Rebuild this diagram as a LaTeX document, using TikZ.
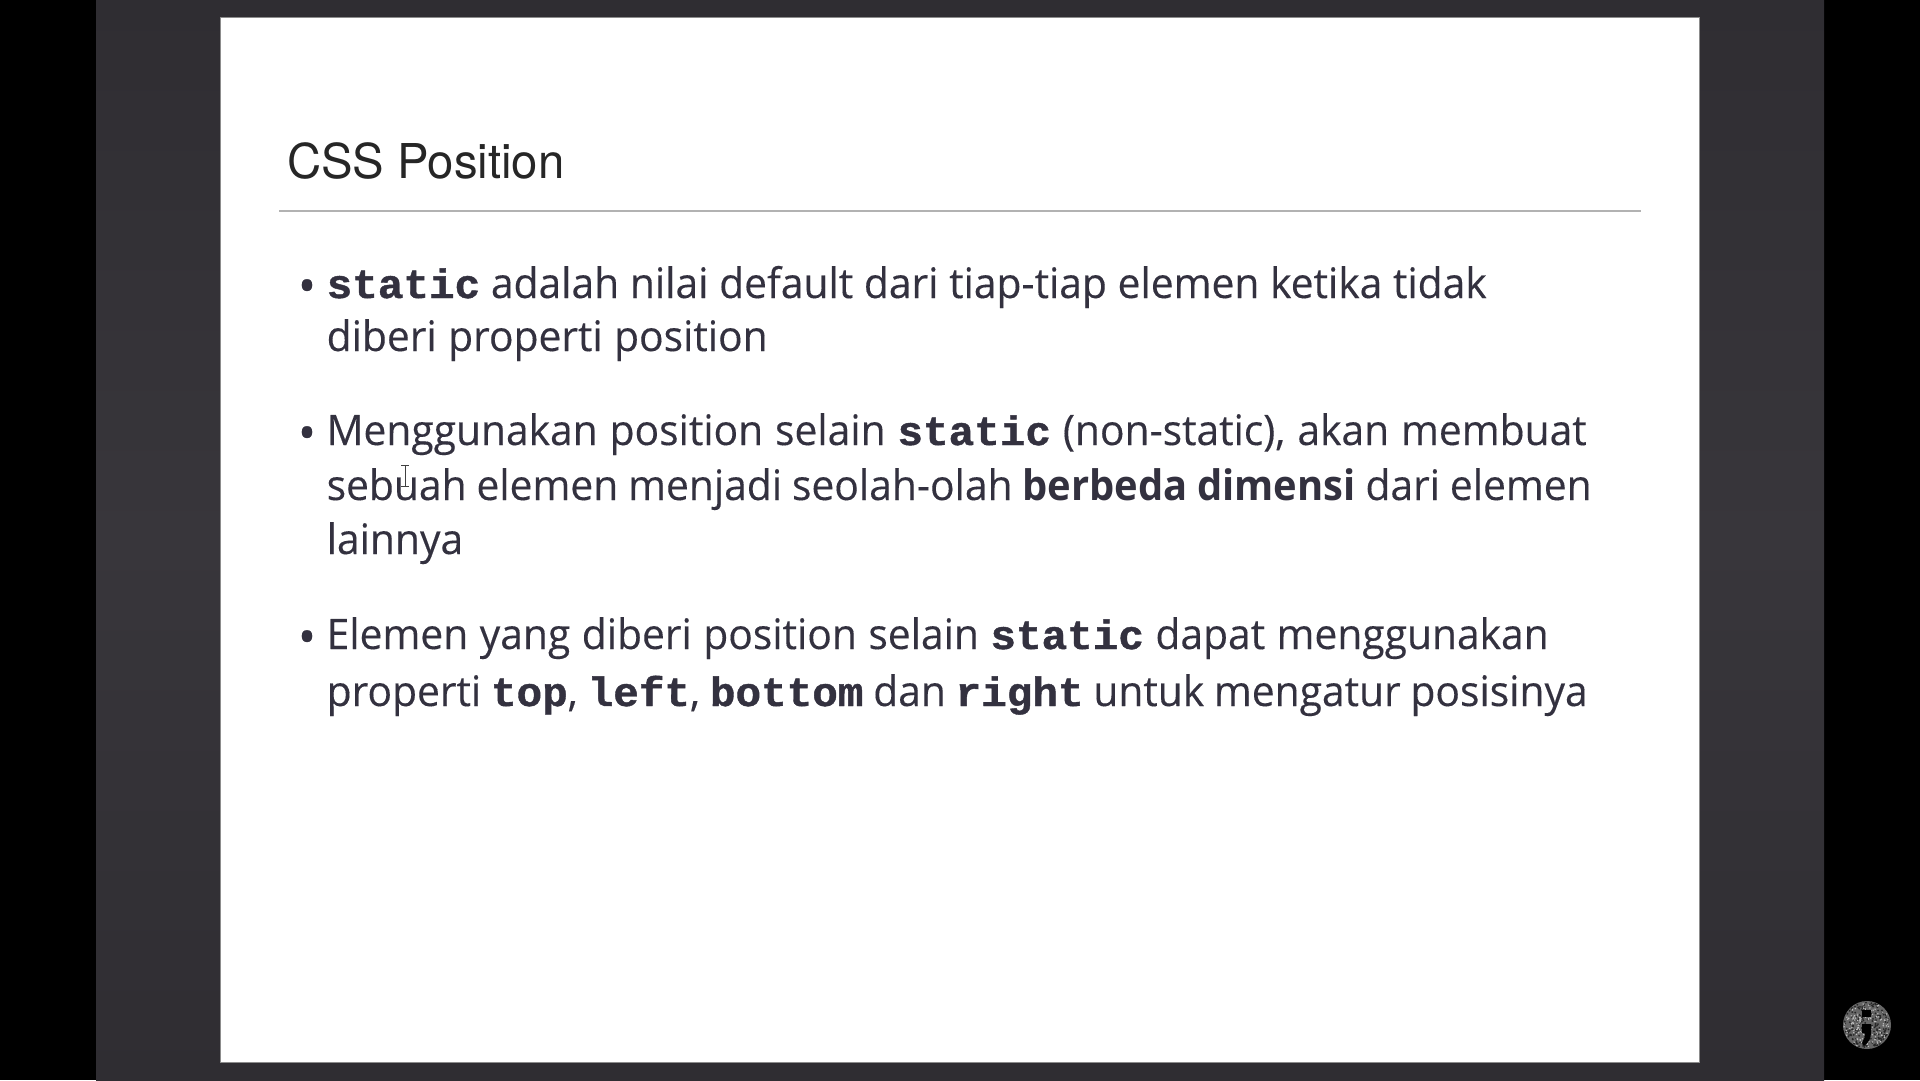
\documentclass[tikz,border=0pt]{standalone}
\usepackage{fontspec}
\setmainfont{Open Sans}
\newfontfamily\bodyf[FakeStretch=0.97,FakeBold=0.25]{Open Sans}
\newfontfamily\bodyb[FakeStretch=0.95]{Open Sans}[UprightFont=* Bold]
\newfontfamily\monof[FakeStretch=1.04,FakeBold=1]{Liberation Mono}[UprightFont=* Bold]
\newfontfamily\titlef[FakeStretch=0.985]{TeX Gyre Heros}
\definecolor{ink}{HTML}{33313F}
\definecolor{dark}{HTML}{38363B}
\definecolor{darker}{HTML}{2F2D32}
\newcommand{\cd}[1]{{\monof\fontsize{41}{41}\selectfont #1}}
\newcommand{\bd}[1]{{\bodyb #1}}
\tikzset{
 txt/.style={anchor=base west,inner sep=0pt,text=ink,font=\bodyf\fontsize{42}{42}\selectfont},
 bul/.style={anchor=base,inner sep=0pt,text=ink,font=\bodyf\fontsize{49}{49}\selectfont},
}
\begin{document}
\begin{tikzpicture}[x=1pt,y=-1pt]
\useasboundingbox (0,0) rectangle (1920,1080);
\fill[black] (0,0) rectangle (1920,1080);
\shade[top color=darker,bottom color=darker,middle color=dark] (96,0) rectangle (1824,1080);
\fill[white,draw=black!45,line width=1pt] (220,17) rectangle (1699.5,1062);
\node[anchor=base west,inner sep=0pt,text=black!85,font=\titlef\fontsize{48}{48}\selectfont] (title) at (287,178) {CSS Position};
\coordinate (ruleL) at (279,211);
\coordinate (ruleR) at (1641,211);
\draw[color=black!30,line width=1.5pt] (ruleL) -- (ruleR);
\node[bul] (b1) at (307,303) {•};
\node[txt] (l1) at (326.5,298) {\makebox[1160pt][s]{\cd{static} adalah nilai default dari tiap-tiap elemen ketika tidak}};
\node[txt] (l2) at (326.5,351) {\makebox[441pt][s]{diberi properti position}};
\node[bul] (b2) at (307,450) {•};
\node[txt] (l3) at (326.5,445) {\makebox[1260pt][s]{Menggunakan position selain \cd{static} (non-static), akan membuat}};
\node[txt] (l4) at (326.5,500) {\makebox[1265pt][s]{sebuah elemen menjadi seolah-olah \bd{berbeda dimensi} dari elemen}};
\node[txt] (l5) at (326.5,554) {lainnya};
\node[bul] (b3) at (307,654) {•};
\node[txt] (l6) at (326.5,649) {\makebox[1222pt][s]{Elemen yang diberi position selain \cd{static} dapat menggunakan}};
\node[txt] (l7) at (326.5,706) {\makebox[1261pt][s]{properti \cd{top}, \cd{left}, \cd{bottom} dan \cd{right} untuk mengatur posisinya}};
% text cursor
\draw[color=black!75,line width=1pt] (401,465) -- (409,465) (405,465) -- (405,486) (401,486) -- (409,486);
% watermark
\fill[color=black!60] (1867,1025) circle (24);
\pgfmathsetseed{7}
\foreach \i in {1,...,200}{
 \pgfmathsetmacro{\aa}{rnd*360}\pgfmathsetmacro{\rr}{23*sqrt(rnd)}
 \fill[color=black!85] ({1867+\rr*cos(\aa)},{1025+\rr*sin(\aa)}) circle (1);
}
\foreach \i in {1,...,140}{
 \pgfmathsetmacro{\aa}{rnd*360}\pgfmathsetmacro{\rr}{23*sqrt(rnd)}
 \fill[color=black!25] ({1867+\rr*cos(\aa)},{1025+\rr*sin(\aa)}) circle (0.8);
}
\fill[black] (1862,1010) rectangle (1871,1017);
\fill[black] (1862,1024) rectangle (1871,1033) (1871,1033) .. controls (1871,1039) and (1868,1043) .. (1864,1046) -- (1862,1043) .. controls (1864,1040) and (1865,1037) .. (1865,1033) -- cycle;
\end{tikzpicture}
\end{document}
